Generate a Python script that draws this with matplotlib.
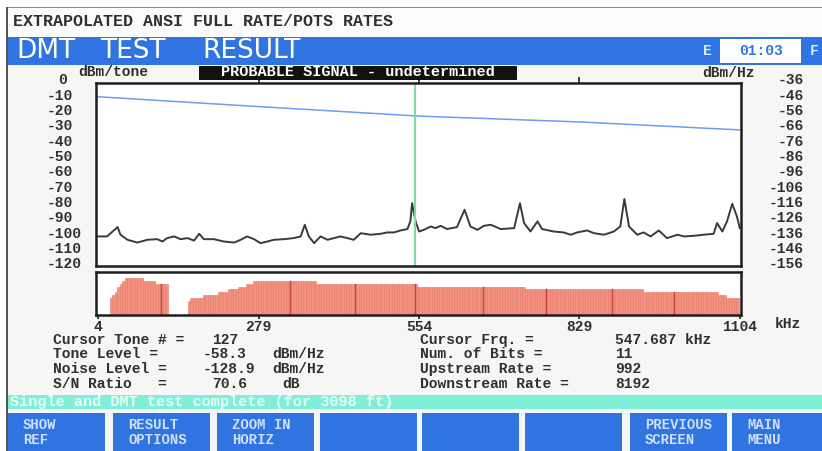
import numpy as np
import matplotlib.pyplot as plt
from matplotlib.patches import Rectangle

# ---- data ----
tick_khz = [4, 279, 554, 829, 1104]
left_labels = [0, -10, -20, -30, -40, -50, -60, -70, -80, -90, -100, -110, -120]
right_offset = -36  # dBm/Hz scale = dBm/tone scale - 36

# transmit PSD (blue line), dBm/tone
signal_khz = [0, 279, 554, 829, 1104]
signal_dbm = [-10.7, -17.2, -23.4, -27.2, -32.4]

# measured noise (dark line), dBm/tone
noise_khz = [2, 19, 37, 42, 54, 71, 88, 105, 114, 122, 134, 145, 157, 168, 177, 185,
             202, 219, 237, 248, 259, 271, 282, 294, 305, 322, 339, 351, 358, 365,
             374, 385, 397, 408, 419, 431, 442, 454, 471, 488, 499, 511, 522, 534,
             539, 542, 548, 554, 562, 574, 582, 591, 602, 619, 632, 642, 654, 665,
             677, 694, 717, 727, 734, 745, 757, 765, 785, 802, 814, 825, 842, 854,
             871, 888, 899, 906, 914, 928, 939, 951, 965, 979, 997, 1008, 1025,
             1042, 1059, 1065, 1074, 1082, 1091, 1099, 1104]
noise_dbm = [-101.9, -101.9, -95.8, -100.8, -104.1, -105.9, -104.1, -103.7, -105.2,
             -103.0, -101.9, -103.7, -103.0, -104.6, -100.2, -103.7, -103.7, -105.2,
             -105.9, -104.1, -101.9, -103.7, -106.3, -105.2, -104.1, -103.7, -103.0,
             -101.9, -94.3, -101.9, -106.3, -101.9, -104.1, -103.0, -101.9, -103.0,
             -104.1, -99.8, -100.8, -100.2, -99.3, -99.3, -98.0, -97.1, -92.1, -80.2,
             -92.1, -98.7, -97.6, -95.4, -96.5, -95.0, -97.1, -95.8, -84.5, -95.4,
             -97.6, -95.0, -94.3, -97.1, -96.5, -80.2, -93.2, -98.7, -92.1, -97.1,
             -98.7, -99.3, -100.8, -99.3, -98.0, -99.8, -100.8, -98.7, -95.4, -77.5,
             -95.4, -100.8, -99.3, -101.9, -98.0, -103.0, -100.8, -101.9, -101.5,
             -100.8, -100.2, -93.2, -98.7, -92.1, -80.6, -88.9, -96.5]

# bit loading, run-length: first tone, last tone, bits
bit_first = [6, 7, 8, 9, 10, 11, 12, 19, 24, 37, 38, 43, 49, 53, 57, 60, 63, 88, 128, 171, 218, 248, 251]
bit_last = [6, 7, 8, 9, 10, 11, 18, 23, 28, 37, 42, 48, 52, 56, 59, 62, 87, 127, 170, 217, 247, 250, 255]
bit_value = [6, 7, 8, 10, 11, 12, 13, 12, 11, 5, 6, 7, 8, 9, 10, 11, 12, 11, 10, 9, 8, 7, 6]
marker_tones = [26, 77, 103, 127, 154, 179, 205, 230]
tone_spacing = 4.3125  # kHz

cursor_khz = 547.687

info_left = [("Cursor Tone # =", "127", ""),
             ("Tone Level =", "-58.3", "dBm/Hz"),
             ("Noise Level =", "-128.9", "dBm/Hz"),
             ("S/N Ratio   =", "70.6", "dB")]
info_right = [("Cursor Frq. =", "547.687 kHz"),
              ("Num. of Bits =", "11"),
              ("Upstream Rate =", "992"),
              ("Downstream Rate =", "8192")]
buttons = [("SHOW", "REF"), ("RESULT", "OPTIONS"), ("ZOOM IN", "HORIZ"), ("", ""),
           ("", ""), ("", ""), ("PREVIOUS", "SCREEN"), ("MAIN", "MENU")]
button_x = [8, 113, 217, 320, 422, 525, 630, 732]

# ---- layout helpers (pixel coords, origin top-left) ----
W, H = 822, 451
BLUE = '#2f74e0'
MONO = ['Liberation Mono', 'DejaVu Sans Mono']
INK = '#303030'
FS = 10.5

fig = plt.figure(figsize=(W / 100, H / 100), dpi=100, facecolor='#f6f6f6')

def fx(x):
    return x / W

def fy(y):
    return 1 - y / H

def rect(x0, y0, x1, y1, color, z=1):
    fig.patches.append(Rectangle((fx(x0), fy(y1)), (x1 - x0) / W, (y1 - y0) / H,
                                 transform=fig.transFigure, facecolor=color,
                                 edgecolor='none', zorder=z))

def txt(x, y, s, size=FS, color=INK, ha='left', weight='bold', family=MONO):
    fig.text(fx(x), fy(y), s, fontsize=size, color=color, ha=ha, va='center',
             fontweight=weight, family=family, zorder=5)

# screen frame
rect(0, 0, W, 7, 'white')
rect(0, 0, 6, H, 'white')
rect(6, 7, W, 8.5, '#8a8a8a')
rect(6, 7, 8, H, '#555555')
rect(8, 8.5, W, 37, '#fbfbfb')

txt(13, 21, "EXTRAPOLATED ANSI FULL RATE/POTS RATES", size=12)

# title band
rect(8, 37, W, 65, BLUE)
for word, x in [("DMT", 16), ("TEST", 100), ("RESULT", 202)]:
    txt(x, 51.5, word, size=19, color='white', weight='normal', family=['DejaVu Sans'])
txt(703, 51, "E", color='#dce8ff')
rect(720, 39, 801, 63, 'white', z=2)
txt(761, 51, "01:03", color=BLUE, ha='center')
txt(810, 51, "F", color='#dce8ff')

# ---- main spectrum axes ----
ax = fig.add_axes([fx(96), fy(266), (741 - 96) / W, (266 - 83) / H])
ax.set_facecolor('white')
ax.plot(signal_khz, signal_dbm, color='#6d9cf2', lw=1.1)
ax.plot(noise_khz, noise_dbm, color='#3a3a3a', lw=1.4)
ax.axvline(cursor_khz, color='#86d9a6', lw=1.6)
ax.set_xlim(0, 1106)
ax.set_ylim(-121.2, -1.8)
ax.set_yticks([])
ax.set_xticks(tick_khz[1:4])
ax.tick_params(axis='x', top=True, bottom=False, labelbottom=False, labeltop=False,
               direction='out', length=4, width=1.2, color='#222222')
for s in ax.spines.values():
    s.set_linewidth(1.8)
    s.set_color('#1e1e1e')

ytr = ax.get_yaxis_transform()
for v in left_labels:
    xa = -0.059 if v == 0 else -0.076
    ax.text(xa, v, str(v), transform=ytr, fontsize=FS, fontweight='bold', family=MONO,
            color=INK, ha='left', va='center', clip_on=False)
    ax.text(1.097, v, str(v + right_offset), transform=ytr, fontsize=FS,
            fontweight='bold', family=MONO, color=INK, ha='right', va='center',
            clip_on=False)

txt(78, 72, "dBm/tone")
txt(702, 73, "dBm/Hz")
rect(199, 66, 517, 79.5, '#111111', z=2)
txt(358, 72.5, "PROBABLE SIGNAL - undetermined", size=11, color='white', ha='center')

# ---- bit loading axes ----
bax = fig.add_axes([fx(96), fy(315), (741 - 96) / W, (315 - 272) / H])
bax.set_facecolor('white')
tones = np.concatenate([np.arange(a, b + 1) for a, b in zip(bit_first, bit_last)])
bits = np.concatenate([np.full(b - a + 1, v) for a, b, v in zip(bit_first, bit_last, bit_value)])
bax.bar(tones * tone_spacing, bits, width=tone_spacing, color='#f5907f',
        edgecolor='#e27b6d', linewidth=0.4)
bit_of = dict(zip(tones, bits))
for t in marker_tones:
    bax.plot([t * tone_spacing] * 2, [0, bit_of[t]], color='#c9443a', lw=1)
bax.set_xlim(0, 1106)
bax.set_ylim(0, 15.1)
bax.set_yticks([])
bax.set_xticks(tick_khz)
bax.set_xticklabels([str(k) for k in tick_khz], fontsize=FS, fontweight='bold',
                    family=MONO, color=INK)
bax.tick_params(axis='x', direction='out', length=3, width=1.2, pad=0.5, color='#222222')
for s in bax.spines.values():
    s.set_linewidth(1.8)
    s.set_color('#1e1e1e')
txt(775, 324, "kHz")

# ---- readouts ----
rows_y = [340, 354.5, 369, 384]
for (lab, val, unit), y in zip(info_left, rows_y):
    txt(53, y, lab)
    txt(203 if val.startswith('-') else 212, y, val)
    if unit:
        txt(272 if unit != 'dB' else 282, y, unit)
for (lab, val), y in zip(info_right, rows_y):
    txt(420, y, lab)
    txt(615, y, val)

# status line
rect(8, 395, W, 409, '#7ff0d6')
txt(10, 402, "Single and DMT test complete (for 3098 ft)", size=11, color='#e9fff9')

# soft keys
for (l1, l2), x in zip(buttons, button_x):
    rect(x, 413, min(x + 97, W), H, BLUE)
    txt(x + 15, 425, l1, size=10, color='#cfe0ff')
    txt(x + 15, 440, l2, size=10, color='#cfe0ff')

fig.savefig('out.png', dpi=100, facecolor=fig.get_facecolor())
